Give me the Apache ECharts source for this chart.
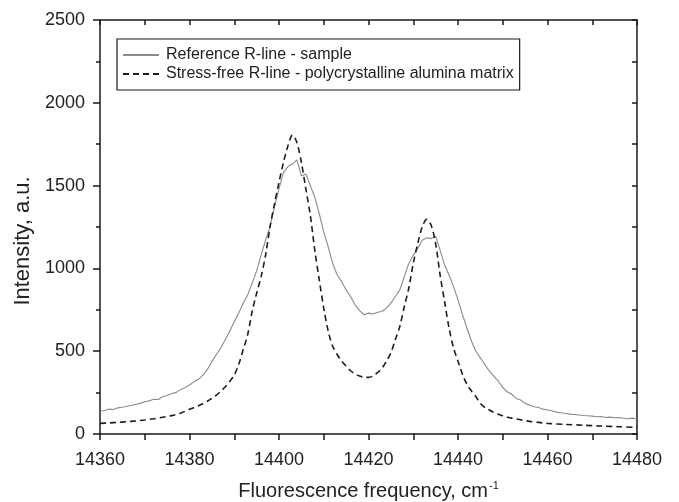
<!DOCTYPE html>
<html><head><meta charset="utf-8">
<script src="https://cdn.jsdelivr.net/npm/echarts@6/dist/echarts.min.js"></script>
<style>html,body{margin:0;padding:0;background:#fff}#c{width:679px;height:502px}</style>
</head><body><div id="c"></div>
<script>
// Fluorescence frequency (cm^-1) and intensities (a.u.)
const freqSample = [14360,14361,14362,14363,14364,14365,14366,14367,14368,14369,14370,14371,14372,14373,14374,14375,14376,14377,14378,14379,14380,14381,14382,14383,14384,14385,14386,14387,14388,14389,14390,14391,14392,14393,14394,14395,14396,14397,14398,14399,14400,14401,14402,14403,14404,14405,14406,14407,14408,14409,14410,14411,14412,14413,14414,14415,14416,14417,14418,14419,14420,14421,14422,14423,14424,14425,14426,14427,14428,14429,14430,14431,14432,14433,14434,14435,14436,14437,14438,14439,14440,14441,14442,14443,14444,14445,14446,14447,14448,14449,14450,14451,14452,14453,14454,14455,14456,14457,14458,14459,14460,14461,14462,14463,14464,14465,14466,14467,14468,14469,14470,14471,14472,14473,14474,14475,14476,14477,14478,14479,14480];
const sampleIntensity = [139,142,150,148,158,162,168,172,180,185,195,200,210,208,225,232,245,250,268,280,296,315,330,355,390,437,480,520,570,620,678,730,790,840,910,985,1080,1170,1252,1373,1480,1580,1615,1630,1655,1560,1570,1500,1430,1330,1220,1130,1030,960,920,870,830,780,745,720,730,725,735,740,760,790,830,870,950,1030,1080,1120,1170,1185,1180,1195,1110,1020,960,890,810,720,640,560,500,460,420,380,350,320,280,255,240,215,205,185,175,165,160,150,145,140,132,128,124,120,118,115,112,110,108,104,106,100,102,98,100,95,92,96,89];
const freqFree = [14360,14362,14364,14366,14368,14370,14372,14374,14376,14378,14380,14382,14384,14385,14386,14387,14388,14389,14390,14391,14392,14393,14394,14395,14396,14397,14398,14399,14400,14401,14402,14403,14404,14405,14406,14407,14408,14409,14410,14411,14412,14413,14414,14415,14416,14417,14418,14419,14420,14421,14422,14423,14424,14425,14426,14427,14428,14429,14430,14431,14432,14433,14434,14435,14436,14437,14438,14439,14440,14441,14442,14443,14444,14445,14446,14447,14448,14449,14450,14452,14454,14456,14458,14460,14464,14468,14472,14476,14480];
const freeIntensity = [64,67,70,74,79,85,92,101,111,126,149,170,198,215,235,258,285,318,356,420,510,600,740,850,950,1080,1252,1390,1520,1640,1740,1805,1760,1640,1480,1320,1110,930,760,620,530,480,440,410,382,362,350,343,342,350,370,397,440,490,570,650,770,880,1030,1150,1250,1296,1260,1150,960,800,640,520,440,360,300,260,225,185,160,145,130,120,110,96,86,76,70,64,58,53,48,44,40];
const seriesNames = ['Reference R-line - sample','Stress-free R-line - polycrystalline alumina matrix'];
const xTicks = [14360,14380,14400,14420,14440,14460,14480];
const yTicks = [0,500,1000,1500,2000,2500];

const pair = (xs, ys) => xs.map((x, i) => [x, ys[i]]);
const FONT = 'Liberation Sans, Arial, sans-serif';
const AX = '#1a1a1a';
const chart = echarts.init(document.getElementById('c'), null, {renderer: 'canvas'});
const baseX = {
  type: 'value', min: xTicks[0], max: xTicks[xTicks.length-1], interval: 20,
  axisLine: {show: true, onZero: false, lineStyle: {color: AX, width: 1.5}},
  splitLine: {show: false}
};
const baseY = {
  type: 'value', min: yTicks[0], max: yTicks[yTicks.length-1], interval: 500,
  axisLine: {show: true, onZero: false, lineStyle: {color: AX, width: 1.5}},
  splitLine: {show: false}
};
chart.setOption({
  animation: false,
  backgroundColor: '#fff',
  textStyle: {fontFamily: FONT},
  grid: {left: 100, right: 42, top: 20, bottom: 68, containLabel: false, outerBoundsMode: 'none'},
  legend: {
    show: true, orient: 'vertical', left: 117, top: 39,
    data: seriesNames.map(n => ({name: n})),
    itemWidth: 36, itemHeight: 16, itemGap: 3,
    padding: [8, 6, 8, 5],
    borderColor: AX, borderWidth: 1.2, borderRadius: 0,
    itemStyle: {opacity: 0},
    textStyle: {fontFamily: FONT, fontSize: 16, color: '#222', padding: [0,0,0,2]},
    selectedMode: false
  },
  xAxis: [
    Object.assign({}, baseX, {
      position: 'bottom',
      axisTick: {show: true, inside: false, length: 6, lineStyle: {color: AX, width: 1.5}},
      minorTick: {show: true, splitNumber: 2, length: 6, lineStyle: {color: AX, width: 1.5}},
      axisLabel: {show: true, color: '#222', fontSize: 18, fontFamily: FONT, margin: 17, formatter: v => String(v)},
      name: '{a|Fluorescence frequency, cm}{b|-1}',
      nameLocation: 'middle', nameGap: 46,
      nameTextStyle: {color: '#222', fontFamily: FONT,
        rich: {a: {fontSize: 20, fontFamily: FONT, color: '#222'},
               b: {fontSize: 11, fontFamily: FONT, color: '#222', verticalAlign: 'top', padding: [0,0,12,1]}}}
    }),
    Object.assign({}, baseX, {
      position: 'top',
      axisTick: {show: true, inside: true, length: 5, lineStyle: {color: AX, width: 1.5}},
      minorTick: {show: true, splitNumber: 2, length: 5, lineStyle: {color: AX, width: 1.5}},
      axisLabel: {show: false}
    })
  ],
  yAxis: [
    Object.assign({}, baseY, {
      position: 'left',
      axisTick: {show: true, inside: false, length: 7, lineStyle: {color: AX, width: 1.5}},
      minorTick: {show: true, splitNumber: 2, length: 4, lineStyle: {color: AX, width: 1.5}},
      axisLabel: {show: true, color: '#222', fontSize: 18, fontFamily: FONT, margin: 15, formatter: v => String(v)},
      name: 'Intensity, a.u.', nameLocation: 'middle', nameGap: 63, nameRotate: 90,
      nameTextStyle: {color: '#222', fontSize: 22, fontFamily: FONT, padding: [0, 28, 0, 0]}
    }),
    Object.assign({}, baseY, {
      position: 'right',
      axisTick: {show: true, inside: true, length: 5, lineStyle: {color: AX, width: 1.5}},
      minorTick: {show: true, splitNumber: 2, length: 5, lineStyle: {color: AX, width: 1.5}},
      axisLabel: {show: false}
    })
  ],
  series: [
    {
      name: seriesNames[0], type: 'line', xAxisIndex: 0, yAxisIndex: 0,
      data: pair(freqSample, sampleIntensity),
      showSymbol: false, symbol: 'none', smooth: false,
      lineStyle: {color: '#8a8a8a', width: 1.1, type: 'solid'},
      itemStyle: {color: '#8a8a8a'}
    },
    {
      name: seriesNames[1], type: 'line', xAxisIndex: 0, yAxisIndex: 0,
      data: pair(freqFree, freeIntensity),
      showSymbol: false, symbol: 'none', smooth: 0.3,
      lineStyle: {color: '#1e1e1e', width: 1.6, type: [6, 4]},
      itemStyle: {color: '#1e1e1e'}
    }
  ]
});
</script></body></html>
